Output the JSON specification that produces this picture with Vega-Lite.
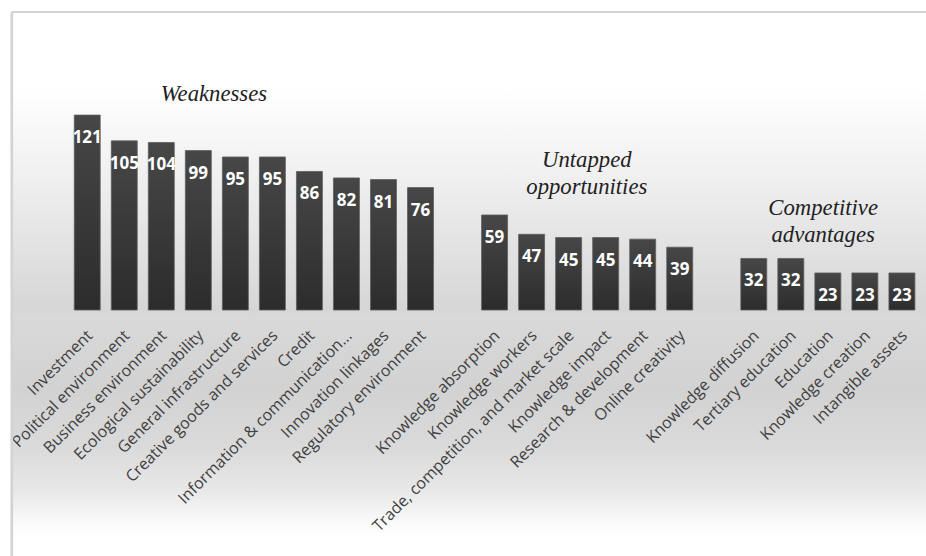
{
  "$schema": "https://vega.github.io/schema/vega-lite/v6.json",
  "autosize": "none",
  "width": 914.7,
  "height": 544,
  "padding": {"left": 11.3, "top": 12, "right": 0, "bottom": 0},
  "background": "white",
  "config": {
    "view": {
      "stroke": null,
      "fill": {
        "gradient": "linear", "x1": 0, "y1": 0, "x2": 0, "y2": 1,
        "stops": [
          {"offset": 0, "color": "#ffffff"},
          {"offset": 0.14, "color": "#ffffff"},
          {"offset": 0.35, "color": "#ebebeb"},
          {"offset": 0.548, "color": "#d6d6d6"},
          {"offset": 0.56, "color": "#d9d9d9"},
          {"offset": 0.69, "color": "#d2d2d2"},
          {"offset": 0.8, "color": "#dadada"},
          {"offset": 0.88, "color": "#e8e8e8"},
          {"offset": 0.943, "color": "#fbfbfb"},
          {"offset": 0.97, "color": "#ffffff"},
          {"offset": 1, "color": "#ffffff"}
        ]
      }
    }
  },
  "datasets": {
    "pillars": [
      {"factor": "Investment", "score": 121, "group": "Weaknesses"},
      {"factor": "Political environment", "score": 105, "group": "Weaknesses"},
      {"factor": "Business environment", "score": 104, "group": "Weaknesses"},
      {"factor": "Ecological sustainability", "score": 99, "group": "Weaknesses"},
      {"factor": "General infrastructure", "score": 95, "group": "Weaknesses"},
      {"factor": "Creative goods and services", "score": 95, "group": "Weaknesses"},
      {"factor": "Credit", "score": 86, "group": "Weaknesses"},
      {"factor": "Information & communication...", "score": 82, "group": "Weaknesses"},
      {"factor": "Innovation linkages", "score": 81, "group": "Weaknesses"},
      {"factor": "Regulatory environment", "score": 76, "group": "Weaknesses"},
      {"factor": "Knowledge absorption", "score": 59, "group": "Untapped opportunities"},
      {"factor": "Knowledge workers", "score": 47, "group": "Untapped opportunities"},
      {"factor": "Trade, competition, and market scale", "score": 45, "group": "Untapped opportunities"},
      {"factor": "Knowledge impact", "score": 45, "group": "Untapped opportunities"},
      {"factor": "Research & development", "score": 44, "group": "Untapped opportunities"},
      {"factor": "Online creativity", "score": 39, "group": "Untapped opportunities"},
      {"factor": "Knowledge diffusion", "score": 32, "group": "Competitive advantages"},
      {"factor": "Tertiary education", "score": 32, "group": "Competitive advantages"},
      {"factor": "Education", "score": 23, "group": "Competitive advantages"},
      {"factor": "Knowledge creation", "score": 23, "group": "Competitive advantages"},
      {"factor": "Intangible assets", "score": 23, "group": "Competitive advantages"}
    ]
  },
  "data": {"name": "pillars"},
  "layer": [
    {
      "mark": {
        "type": "bar",
        "color": {
          "gradient": "linear", "x1": 0, "y1": 0, "x2": 0, "y2": 1,
          "stops": [
            {"offset": 0, "color": "#474747"},
            {"offset": 1, "color": "#2c2c2c"}
          ]
        },
        "stroke": "#5e5e5e",
        "strokeWidth": 0.8
      },
      "encoding": {
        "x": {
          "field": "factor",
          "type": "nominal",
          "sort": null,
          "scale": {
            "domain": [
              "Investment", "Political environment", "Business environment", "Ecological sustainability",
              "General infrastructure", "Creative goods and services", "Credit", "Information & communication...",
              "Innovation linkages", "Regulatory environment", "gap1",
              "Knowledge absorption", "Knowledge workers", "Trade, competition, and market scale",
              "Knowledge impact", "Research & development", "Online creativity", "gap2",
              "Knowledge diffusion", "Tertiary education", "Education", "Knowledge creation", "Intangible assets"
            ],
            "paddingInner": 0.299,
            "paddingOuter": 1.0705,
            "align": 0.85
          },
          "axis": {
            "orient": "bottom",
            "offset": -246,
            "title": null,
            "domain": false,
            "ticks": false,
            "labelAngle": -45,
            "labelPadding": 17,
            "labelOffset": -3,
            "labelFont": "Open Sans",
            "labelFontSize": 16,
            "labelColor": "#404040",
            "labelLimit": 400,
            "labelExpr": "indexof(datum.value, 'gap') == 0 ? '' : datum.value"
          }
        },
        "y": {
          "field": "score",
          "type": "quantitative",
          "scale": {"domain": [-152.7, 185], "nice": false, "zero": false},
          "axis": {
            "title": null, "labels": false, "ticks": false, "grid": false,
            "domainColor": "#d3d3d3", "domainWidth": 2.7
          }
        }
      }
    },
    {
      "mark": {
        "type": "text",
        "color": "white",
        "font": "Open Sans",
        "fontWeight": "bold",
        "fontSize": 17,
        "baseline": "middle",
        "dy": 23
      },
      "encoding": {
        "x": {"field": "factor", "type": "nominal", "sort": null},
        "y": {"field": "score", "type": "quantitative"},
        "text": {"field": "score", "type": "quantitative"}
      }
    },
    {
      "transform": [{"filter": "datum.factor == 'Investment'"}],
      "mark": {"type": "rule", "color": "#d3d3d3", "strokeWidth": 2},
      "encoding": {"y": {"datum": 185, "type": "quantitative"}}
    },
    {
      "transform": [{"filter": "datum.factor == 'Investment'"}],
      "mark": {"type": "text", "font": "Liberation Serif", "fontStyle": "italic", "fontSize": 22.7, "color": "#222222", "baseline": "middle"},
      "encoding": {
        "x": {"datum": "Ecological sustainability", "bandPosition": 1.1},
        "y": {"datum": 134, "type": "quantitative"},
        "text": {"value": "Weaknesses"}
      }
    },
    {
      "transform": [{"filter": "datum.factor == 'Investment'"}],
      "mark": {"type": "text", "font": "Liberation Serif", "fontStyle": "italic", "fontSize": 22.7, "color": "#222222", "baseline": "middle", "lineHeight": 27},
      "encoding": {
        "x": {"datum": "Trade, competition, and market scale", "bandPosition": 1.2},
        "y": {"datum": 93.1, "type": "quantitative"},
        "text": {"value": ["Untapped", "opportunities"]}
      }
    },
    {
      "transform": [{"filter": "datum.factor == 'Investment'"}],
      "mark": {"type": "text", "font": "Liberation Serif", "fontStyle": "italic", "fontSize": 22.7, "color": "#222222", "baseline": "middle", "lineHeight": 27},
      "encoding": {
        "x": {"datum": "Education", "bandPosition": 0.32},
        "y": {"datum": 63.3, "type": "quantitative"},
        "text": {"value": ["Competitive", "advantages"]}
      }
    }
  ]
}
